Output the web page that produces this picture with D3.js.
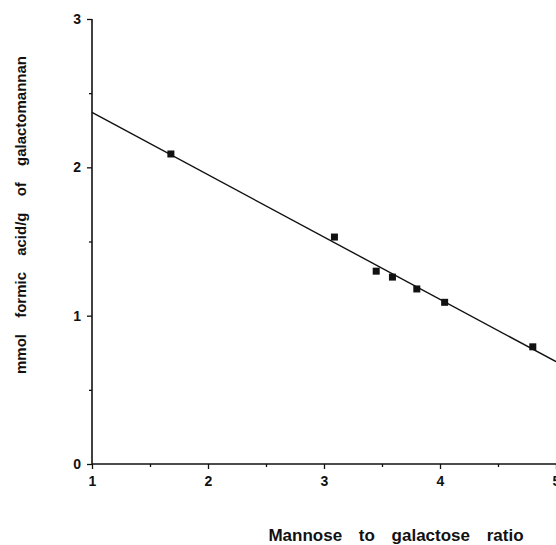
<!DOCTYPE html>
<html>
<head>
<meta charset="utf-8">
<script src="https://cdn.jsdelivr.net/npm/d3@7"></script>
<style>
    body { margin: 0; background: #fff; }
    text { font-family: "Liberation Sans", Arial, sans-serif; font-weight: bold; fill: #111; }
</style>
</head>
<body>
<script>
//data
var ratio = [1.68, 3.09, 3.45, 3.59, 3.80, 4.04, 4.80];
var formic = [2.09, 1.53, 1.30, 1.26, 1.18, 1.09, 0.79];
//regression line end points
var fitX = [1, 5];
var fitY = [2.37, 0.69];
var xTicks = [1, 2, 3, 4, 5];
var yTicks = [0, 1, 2, 3];
var xMinor = [1.5, 2.5, 3.5, 4.5];
var yMinor = [0.5, 1.5, 2.5];

var w = 556, h = 545;
var svg = d3.select("body").append("svg")
    .attr("width", w)
    .attr("height", h);

var x = d3.scaleLinear().domain([1, 5]).range([92, 556]);
var y = d3.scaleLinear().domain([0, 3]).range([464, 19]);

//axes
var xAxis = svg.append("g")
    .attr("transform", "translate(0," + y(0) + ")")
    .call(d3.axisBottom(x).tickValues(xTicks).tickSize(5).tickPadding(7).tickFormat(d3.format("d")));
xAxis.append("g")
    .call(d3.axisBottom(x).tickValues(xMinor).tickSize(3).tickFormat(""));

var yAxis = svg.append("g")
    .attr("transform", "translate(" + x(1) + ",0)")
    .call(d3.axisLeft(y).tickValues(yTicks).tickSize(5).tickPadding(6).tickFormat(d3.format("d")));
yAxis.append("g")
    .call(d3.axisLeft(y).tickValues(yMinor).tickSize(3).tickFormat(""));

svg.selectAll(".tick line").attr("stroke", "#111").attr("stroke-width", 1.3);
svg.selectAll(".tick text").style("font-size", "14px").style("font-weight", "bold");
//the inner minor groups draw their own domain, drop it
xAxis.select("g .domain").remove();
yAxis.select("g .domain").remove();
//plain axis lines, no end caps
yAxis.select(".domain").attr("d", "M0," + y(0) + "V" + y(3));
xAxis.select(".domain").attr("d", "M" + x(1) + ",0H" + x(5));
svg.selectAll(".domain").attr("stroke", "#111").attr("stroke-width", 1.6);

//regression line
var fit = fitX.map(function(d, i){ return [d, fitY[i]]; });
svg.append("path")
    .datum(fit)
    .attr("fill", "none")
    .attr("stroke", "#111")
    .attr("stroke-width", 1.4)
    .attr("d", d3.line()
        .x(function(d){ return x(d[0]); })
        .y(function(d){ return y(d[1]); }));

//points
var pts = ratio.map(function(d, i){ return { r: d, f: formic[i] }; });
var s = 7;
svg.selectAll(".pt")
    .data(pts)
    .enter()
    .append("rect")
    .attr("class", "pt")
    .attr("x", function(d){ return x(d.r) - s / 2; })
    .attr("y", function(d){ return y(d.f) - s / 2; })
    .attr("width", s)
    .attr("height", s)
    .attr("fill", "#111");

//axis titles
svg.append("text")
    .attr("x", 396)
    .attr("y", 541)
    .attr("text-anchor", "middle")
    .style("font-size", "17px")
    .style("word-spacing", "12px")
    .text("Mannose to galactose ratio");

svg.append("text")
    .attr("transform", "translate(26,215) rotate(-90)")
    .attr("text-anchor", "middle")
    .style("font-size", "15px")
    .style("word-spacing", "12px")
    .text("mmol formic acid/g of galactomannan");
</script>
</body>
</html>
